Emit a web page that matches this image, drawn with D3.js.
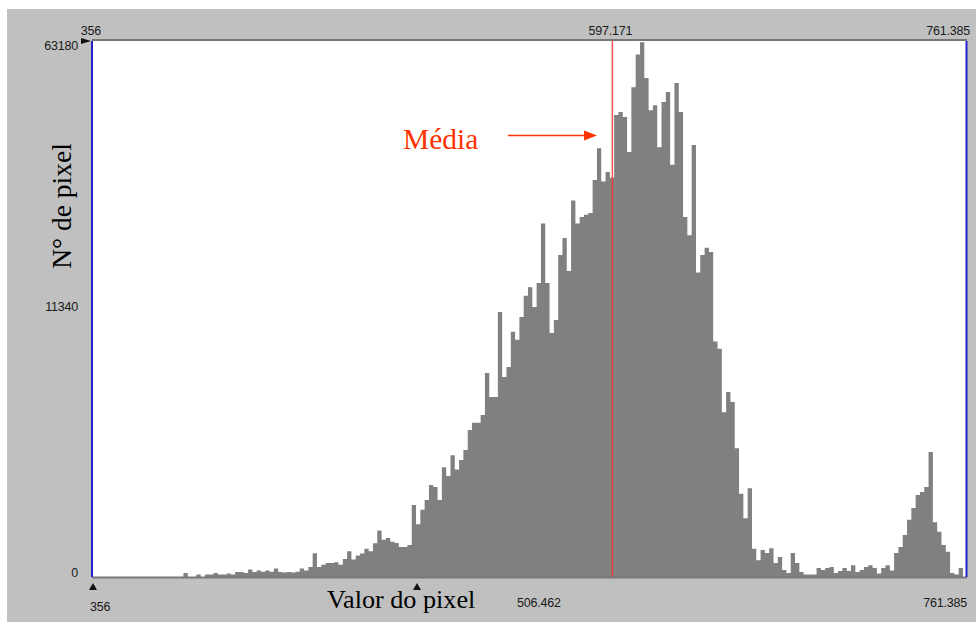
<!DOCTYPE html>
<html>
<head>
<meta charset="utf-8">
<script src="https://cdn.jsdelivr.net/npm/d3@7"></script>
<style>
  html, body { margin: 0; padding: 0; background: #ffffff; }
  svg { display: block; }
</style>
</head>
<body>
<svg id="chart" width="978" height="625"></svg>
<script>
// ---------- DATA ----------
const xStart = 356;
const xEnd = 761.385;
const binWidth = 2;
const meanValue = 597.171;
const yMax = 63180;
const yTicks = [63180, 11340, 0];
const topTicks = [356, 597.171, 761.385];
const bottomTicks = [356, 506.462, 761.385];
const bottomMarkers = [356, 506.462];
const counts = [
  0,0,0,0,0,0,0,0,0,0, 0,0,0,0,0,0,0,0,0,0,
  0,0.3,0,0,0.1,0,0.1,0.1,0.3,0.1,
  0.1,0.2,0.1,0.5,0.5,0.3,1.5,0.5,1,0.6,
  1,0.6,2,0.5,0.4,0.5,0.4,0.6,2,1,
  3,26,3,5,7,7,8,5,13,32,
  12,20,25,40,32,62,140,80,90,70,
  64,47,47,55,415,190,350,490,765,727,
  490,1190,970,1550,1130,1400,1720,2480,2790,2790,
  3160,5620,4110,4110,10800,5350,6050,8900,8200,10300,
  12550,13500,11330,14000,22200,14000,8800,10000,17600,20000,
  15500,26000,22200,23250,23600,23900,29700,36000,29400,31200,
  30100,43400,44100,42900,35200,50200,59000,62500,52600,44500,
  45700,36200,46500,49000,32600,51300,44100,23250,20400,36700,
  15300,17600,18600,18000,8050,7450,3300,4400,3830,1780,
  600,250,700,40,11,36,27,42,7,17,
  1.2,0.3,27,7,0.5,0.1,0.1,0.1,2.3,1.2,
  2.3,3,0.3,0.8,2.3,0.8,4.5,0.5,1.2,3,
  4.5,2.3,0.2,2.3,4.5,1,27,47,108,235,
  375,575,630,727,1650,210,130,55,30,0.3,
  0.1,2.3,0
];
const labels = { x: "Valor do pixel", y: "N° de pixel", mean: "Média" };

// ---------- LAYOUT ----------
const plot = { left: 93, right: 966, top: 40, bottom: 577 };

const svg = d3.select("#chart");

svg.append("rect").attr("x", 7).attr("y", 9).attr("width", 969).attr("height", 613)
  .attr("fill", "#c0c0c0");
svg.append("rect").attr("x", plot.left).attr("y", plot.top)
  .attr("width", plot.right - plot.left).attr("height", plot.bottom - plot.top)
  .attr("fill", "#ffffff");

const x = d3.scaleLinear().domain([xStart, xEnd]).range([plot.left, plot.right]);
const y = d3.scalePow().exponent(0.4).domain([0, yMax]).range([plot.bottom, plot.top]);

svg.append("clipPath").attr("id", "clip").append("rect")
  .attr("x", plot.left).attr("y", plot.top)
  .attr("width", plot.right - plot.left).attr("height", plot.bottom - plot.top);

const bins = counts.map((n, i) => ({ x0: xStart + i * binWidth, x1: xStart + (i + 1) * binWidth, n }));

// histogram as one stepped area (no seams between bins)
let dStr = `M${x(bins[0].x0)},${plot.bottom}`;
bins.forEach(b => {
  const top = b.n > 0 ? y(b.n) : plot.bottom;
  dStr += `L${x(b.x0)},${top}L${x(b.x1)},${top}`;
});
dStr += `L${x(bins[bins.length - 1].x1)},${plot.bottom}Z`;
svg.append("g").attr("clip-path", "url(#clip)")
  .append("path").attr("d", dStr).attr("fill", "#808080");

// mean line
svg.append("line")
  .attr("x1", x(meanValue)).attr("x2", x(meanValue))
  .attr("y1", plot.top).attr("y2", plot.bottom)
  .attr("stroke", "#ff3030").attr("stroke-opacity", 0.85).attr("stroke-width", 1.5);

// borders
svg.append("line").attr("x1", plot.left - 1).attr("x2", plot.right + 1)
  .attr("y1", plot.top).attr("y2", plot.top).attr("stroke", "#777").attr("stroke-width", 2);
svg.append("line").attr("x1", plot.left - 1).attr("x2", plot.right + 1)
  .attr("y1", plot.bottom + 0.5).attr("y2", plot.bottom + 0.5).attr("stroke", "#777").attr("stroke-width", 2);
svg.append("line").attr("x1", plot.left - 1).attr("x2", plot.left - 1)
  .attr("y1", plot.top + 1).attr("y2", plot.bottom).attr("stroke", "#2222cc").attr("stroke-width", 2);
svg.append("line").attr("x1", plot.right + 0.5).attr("x2", plot.right + 0.5)
  .attr("y1", plot.top + 1).attr("y2", plot.bottom).attr("stroke", "#2222cc").attr("stroke-width", 2);

// tick labels
const tickFont = "Liberation Sans, Arial, sans-serif";
const tickStyle = sel => sel.attr("font-family", tickFont).attr("font-size", 12.5)
  .attr("fill", "#1a1a1a").attr("dominant-baseline", "central").attr("letter-spacing", -0.2);

const topAnchor = ["middle", "middle", "end"];
const topDx = [-2, -2, 4];
svg.append("g").selectAll("text").data(topTicks).join("text")
  .attr("x", (d, i) => x(d) + topDx[i]).attr("y", 31)
  .attr("text-anchor", (d, i) => topAnchor[i])
  .text(d => d).call(tickStyle);

const yDy = [6, 0, -4];
svg.append("g").selectAll("text").data(yTicks).join("text")
  .attr("x", 78).attr("y", (d, i) => y(d) + yDy[i])
  .attr("text-anchor", "end")
  .text(d => d).call(tickStyle);

const botX = [x(356) - 3, x(506.462) + 100, x(761.385) + 1];
const botAnchor = ["start", "start", "end"];
const botY = [607, 603, 603];
svg.append("g").selectAll("text").data(bottomTicks).join("text")
  .attr("x", (d, i) => botX[i]).attr("y", (d, i) => botY[i])
  .attr("text-anchor", (d, i) => botAnchor[i])
  .text(d => d).call(tickStyle);

// markers
svg.append("g").selectAll("path").data(bottomMarkers).join("path")
  .attr("d", d => `M${x(d)},583 L${x(d) + 4},590 L${x(d) - 4},590 Z`)
  .attr("fill", "#111");
svg.append("path")
  .attr("d", `M${plot.left - 2},41 L${plot.left - 12},38 L${plot.left - 12},44 Z`)
  .attr("fill", "#111");

// axis titles
const serif = "Liberation Serif, 'Times New Roman', serif";
svg.append("text").attr("x", 327).attr("y", 608)
  .attr("font-family", serif).attr("font-size", 26.2).attr("fill", "#000")
  .text(labels.x);
svg.append("text")
  .attr("transform", "translate(71,206) rotate(-90)")
  .attr("text-anchor", "middle")
  .attr("font-family", serif).attr("font-size", 27.5).attr("fill", "#000")
  .text(labels.y);

// mean annotation
svg.append("text").attr("x", 403).attr("y", 149)
  .attr("font-family", serif).attr("font-size", 29.5).attr("fill", "#ff3300")
  .text(labels.mean);
svg.append("line").attr("x1", 508).attr("x2", 586).attr("y1", 135.5).attr("y2", 135.5)
  .attr("stroke", "#ff3300").attr("stroke-width", 1.5);
svg.append("path").attr("d", "M597,135.5 L584,130.5 L584,140.5 Z").attr("fill", "#ff3300");
</script>
</body>
</html>
